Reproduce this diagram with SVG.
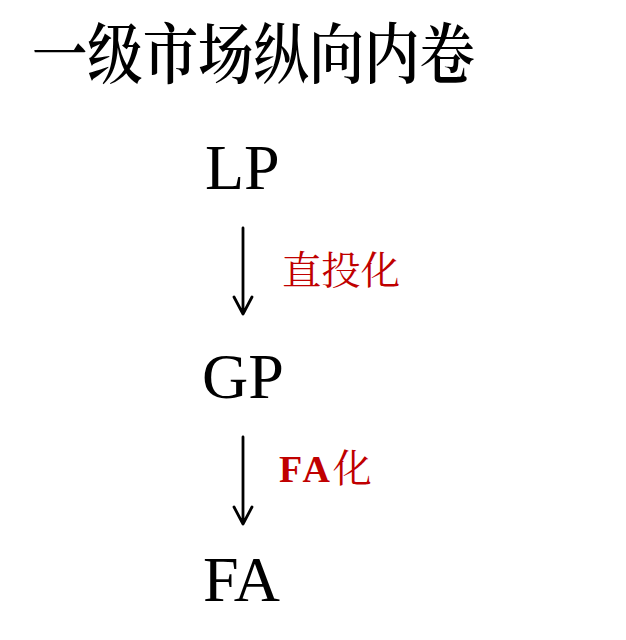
<svg xmlns="http://www.w3.org/2000/svg" width="626" height="640" viewBox="0 0 626 640">
<style>
.title{font-family:"Noto Serif CJK SC","Noto Sans CJK SC",serif;font-size:66px;font-weight:600;fill:#000}
.node{font-family:"Liberation Serif","Times New Roman",serif;font-size:64px;fill:#000}
.lbl{font-family:"Liberation Serif","Noto Serif CJK SC","Noto Sans CJK SC",serif;font-size:39px;fill:#c00000}
.cjk{font-family:"Noto Serif CJK SC","Noto Sans CJK SC",serif}
.edge{stroke:#000;stroke-width:2.8;fill:none;stroke-linecap:round;stroke-linejoin:round}
</style>
<rect width="626" height="640" fill="#fff"/>
<text class="title" x="32" y="78" textLength="443" lengthAdjust="spacingAndGlyphs">一级市场纵向内卷</text>
<g id="LP"><text class="node" x="205" y="189">LP</text></g>
<g id="GP"><text class="node" x="202" y="398">GP</text></g>
<g id="FA"><text class="node" x="203" y="601">FA</text></g>
<g id="connectors">
<path class="edge" d="M243 228 V314 M234 297 L243 314 L252 297"/>
<path class="edge" d="M243 437 V524 M234 507 L243 524 L252 507"/>
<text class="lbl cjk" x="282" y="284" textLength="118" lengthAdjust="spacingAndGlyphs">直投化</text>
<text class="lbl" x="279" y="482"><tspan font-weight="bold" font-size="38" letter-spacing="3">FA</tspan><tspan class="cjk">化</tspan></text>
</g>
</svg>
